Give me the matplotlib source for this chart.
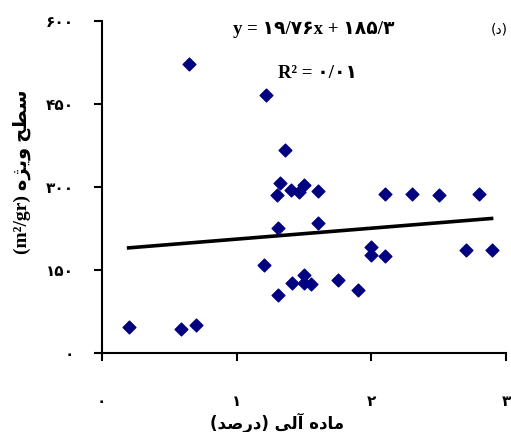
import matplotlib
matplotlib.use('Agg')
import matplotlib.pyplot as plt
import numpy as np

# Data (organic matter % vs specific surface m2/gr)
organic = [0.20, 0.59, 0.70, 0.65, 1.22, 1.36, 1.32, 1.30, 1.40, 1.46, 1.50,
           1.60, 2.10, 1.31, 1.60, 2.00, 2.00, 2.10, 1.20, 1.41, 1.50, 1.50,
           1.55, 1.75, 1.90, 1.31, 2.30, 2.50, 2.80, 2.70, 2.89]
surface = [46, 42, 50, 521, 466, 366, 306, 285, 294, 290, 303,
           292, 286, 225, 234, 191, 177, 175, 158, 125, 140, 125,
           123, 131, 113, 104, 287, 285, 287, 185, 186]

slope = 19.76
intercept = 185.3

x_ticks = [0, 1, 2, 3]
x_ticklabels = ['۰', '۱', '۲', '۳']
y_ticks = [0, 150, 300, 450, 600]
y_ticklabels = ['۰', '۱۵۰', '۳۰۰', '۴۵۰', '۶۰۰']

# Persian strings, pre-shaped into visual (left-to-right) order
xlabel_txt = '(ﺪﺻﺭﺩ) ﯽﻟﺁ ﻩﺩﺎﻣ'
ylabel_txt = '(m²/gr) ﻩﮋﯾﻭ ﺢﻄﺳ'
eq_txt = 'y = ۱۹/۷۶x + ۱۸۵/۳'
r2_txt = 'R² = ۰/۰۱'
panel_txt = '(ﺩ)'

serif = ['Liberation Serif', 'DejaVu Sans']
sans = ['DejaVu Sans']

fig = plt.figure(figsize=(5.11, 4.32), dpi=100)
ax = fig.add_axes([0.199, 0.184, 0.792, 0.768])

ax.scatter(organic, surface, marker='D', s=42, color='#000080', zorder=3)

xs = np.array([min(organic), max(organic)])
ax.plot(xs, slope * xs + intercept, color='black', linewidth=2.6, zorder=2)

ax.set_xlim(0, 3)
ax.set_ylim(0, 600)
ax.set_xticks(x_ticks)
ax.set_xticklabels(x_ticklabels, family=sans, fontsize=11, fontweight='bold')
ax.set_yticks(y_ticks)
ax.set_yticklabels(y_ticklabels, family=sans, fontsize=11, fontweight='bold')

for side in ['top', 'right']:
    ax.spines[side].set_visible(False)
for side in ['left', 'bottom']:
    ax.spines[side].set_linewidth(1.5)
ax.tick_params(axis='both', direction='out', length=6, width=1.5)
ax.tick_params(axis='x', pad=24)
ax.tick_params(axis='y', pad=14)

ax.set_xlabel(xlabel_txt, family=sans, fontsize=12, fontweight='bold', va='center')
ax.xaxis.set_label_coords(0.433, -0.212)
ax.set_ylabel(ylabel_txt, family=serif, fontsize=14, fontweight='bold', va='center')
ax.yaxis.set_label_coords(-0.197, 0.544)

ax.text(0.525, 0.975, eq_txt, transform=ax.transAxes, ha='center', va='center',
        family=serif, fontsize=13.5, fontweight='bold')
ax.text(0.533, 0.842, r2_txt, transform=ax.transAxes, ha='center', va='center',
        family=serif, fontsize=13.5, fontweight='bold')
ax.text(0.982, 0.975, panel_txt, transform=ax.transAxes, ha='center', va='center',
        family=sans, fontsize=10)

plt.savefig('out.png', dpi=100)
plt.close()
